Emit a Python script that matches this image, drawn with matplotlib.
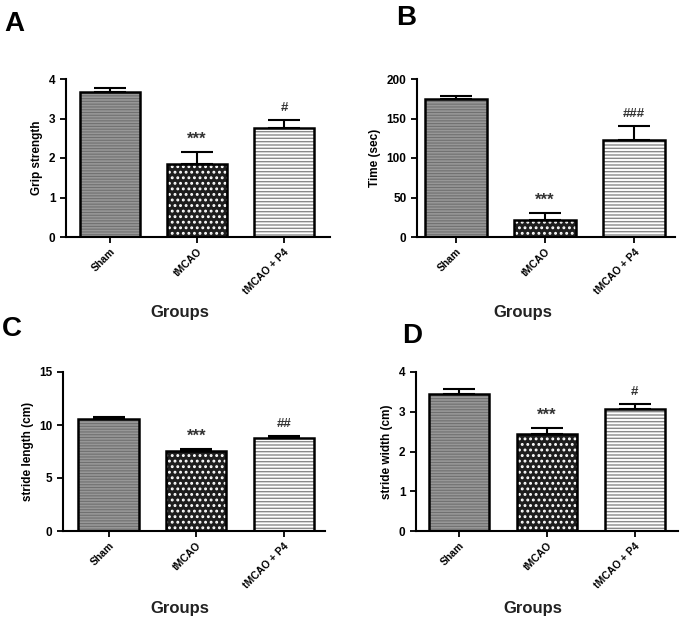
import matplotlib
matplotlib.use("Agg")
import matplotlib.pyplot as plt

plt.rcParams['font.family'] = ['Liberation Sans', 'DejaVu Sans']
plt.rcParams['font.weight'] = 'bold'
plt.rcParams['hatch.linewidth'] = 1.0

groups = ["Sham", "tMCAO", "tMCAO + P4"]

grip_mean = [3.68, 1.85, 2.75]
grip_err = [0.08, 0.29, 0.22]
grip_sig = ["", "***", "#"]

time_mean = [175, 21.5, 123]
time_err = [3, 9, 18]
time_sig = ["", "***", "###"]

stride_len_mean = [10.58, 7.58, 8.78]
stride_len_err = [0.2, 0.12, 0.18]
stride_len_sig = ["", "***", "##"]

stride_wid_mean = [3.45, 2.43, 3.07]
stride_wid_err = [0.12, 0.15, 0.13]
stride_wid_sig = ["", "***", "#"]

W, H = 683, 622
fig = plt.figure(figsize=(W / 100, H / 100), dpi=100)

def ax_rect(l, r, t, b):
    return [l / W, 1 - b / H, (r - l) / W, (b - t) / H]

panels = [
    dict(rect=ax_rect(66, 330, 79, 237), xlim=(-0.51, 2.53), ylim=(0, 4), yticks=[0, 1, 2, 3, 4],
         mean=grip_mean, err=grip_err, sig=grip_sig, ylabel="Grip strength", letter="A", lpos=(4, 31),
         glab=(180, 313)),
    dict(rect=ax_rect(417, 675, 79, 237), xlim=(-0.44, 2.46), ylim=(0, 200), yticks=[0, 50, 100, 150, 200],
         mean=time_mean, err=time_err, sig=time_sig, ylabel="Time (sec)", letter="B", lpos=(396, 25),
         glab=(523, 313)),
    dict(rect=ax_rect(63, 325, 372, 531), xlim=(-0.52, 2.47), ylim=(0, 15), yticks=[0, 5, 10, 15],
         mean=stride_len_mean, err=stride_len_err, sig=stride_len_sig, ylabel="stride length (cm)",
         letter="C", lpos=(2, 336), glab=(180, 608)),
    dict(rect=ax_rect(416, 678, 372, 531), xlim=(-0.49, 2.49), ylim=(0, 4), yticks=[0, 1, 2, 3, 4],
         mean=stride_wid_mean, err=stride_wid_err, sig=stride_wid_sig, ylabel="stride width (cm)",
         letter="D", lpos=(402, 343), glab=(533, 608)),
]

fills = [
    dict(facecolor="#979797", edgecolor="#707070", hatch="------", hlw=0.8),
    dict(facecolor="#1e1e1e", edgecolor="#ffffff", hatch="...", hlw=1.3),
    dict(facecolor="#ffffff", edgecolor="#8a8a8a", hatch="-----", hlw=1.0),
]

x = list(range(len(groups)))
for p in panels:
    ax = fig.add_axes(p["rect"])
    for i in x:
        f = dict(fills[i])
        hlw = f.pop("hlw")
        with plt.rc_context({"hatch.linewidth": hlw}):
            ax.bar(i, p["mean"][i], width=0.69, linewidth=0, zorder=2, **f)
    ax.bar(x, p["mean"], width=0.69, fill=False, edgecolor="black", linewidth=1.8, zorder=3)
    ax.errorbar(x, p["mean"], yerr=[[0] * 3, p["err"]], fmt="none", ecolor="black",
                elinewidth=1.5, capsize=11.5, capthick=1.5, zorder=1)
    ymax = p["ylim"][1]
    for i in x:
        s = p["sig"][i]
        if s:
            fs = 12 if "*" in s else 9.5
            ax.text(i, p["mean"][i] + p["err"][i] + ymax * 0.035, s, ha="center",
                    va="bottom", fontsize=fs, fontweight="bold", color="#333333")
    ax.set_xlim(*p["xlim"])
    ax.set_ylim(*p["ylim"])
    ax.set_yticks(p["yticks"])
    ax.set_xticks(x)
    ax.set_xticklabels(groups, rotation=45, ha="right", rotation_mode="anchor", fontsize=7.5,
                       fontweight="bold")
    ax.tick_params(axis="y", labelsize=8.5, width=1.3, length=4, direction="out")
    ax.tick_params(axis="x", width=1.3, length=4, direction="out", pad=3)
    for sp in ["top", "right"]:
        ax.spines[sp].set_visible(False)
    for sp in ["left", "bottom"]:
        ax.spines[sp].set_linewidth(1.5)
    ax.set_ylabel(p["ylabel"], fontsize=8.5, fontweight="bold", labelpad=4)
    fig.text(p["lpos"][0] / W, 1 - p["lpos"][1] / H, p["letter"], fontsize=20, fontweight="bold",
             ha="left", va="baseline")
    fig.text(p["glab"][0] / W, 1 - p["glab"][1] / H, "Groups", fontsize=12, fontweight="bold",
             ha="center", va="center", color="#222222")

fig.savefig("out.png", dpi=100)
